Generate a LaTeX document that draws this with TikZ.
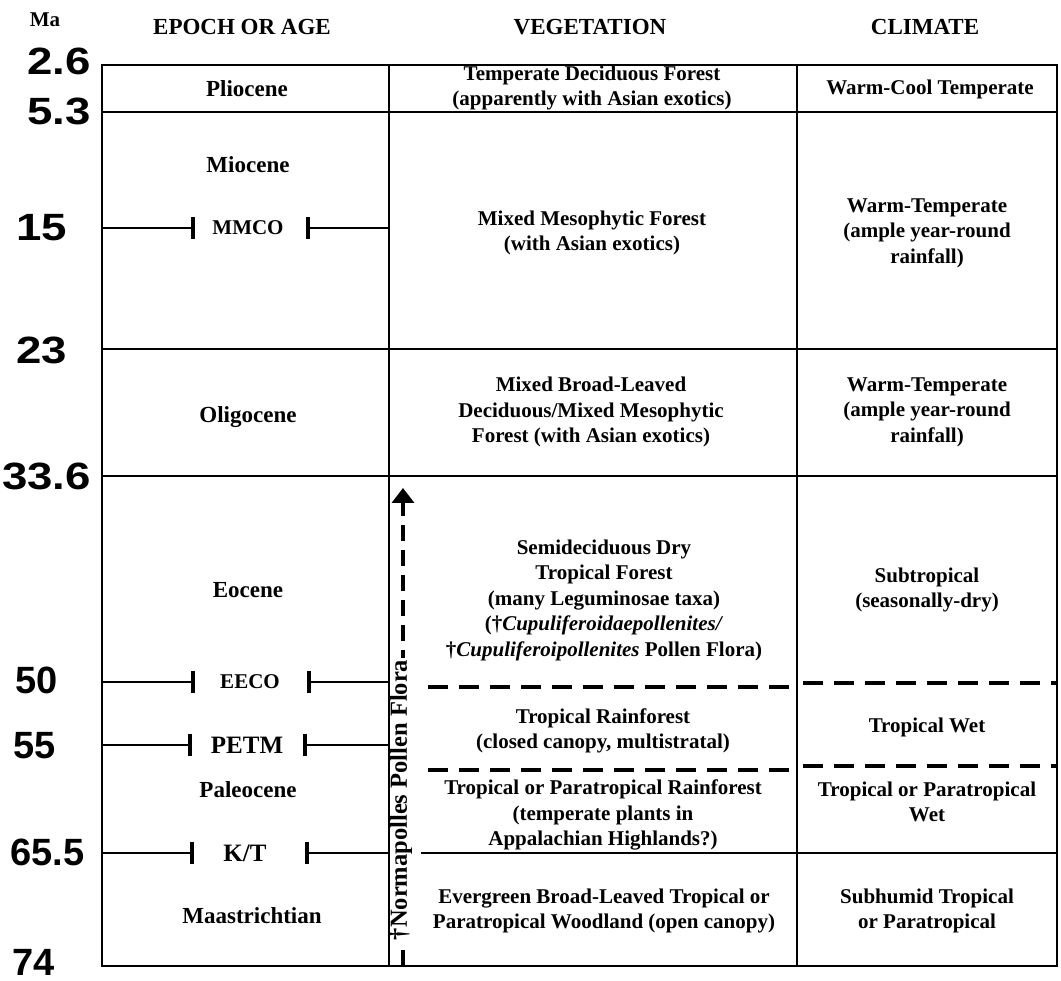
\documentclass[tikz,border=0pt]{standalone}
\usepackage{fontspec}
\setmainfont{Liberation Serif}
\newfontfamily\numfont{Liberation Sans}
\newfontfamily\numwide[FakeStretch=1.2]{Liberation Sans Bold}
\usetikzlibrary{arrows.meta}
\begin{document}
\begin{tikzpicture}[x=1pt,y=-1pt,
  every node/.style={font=\bfseries\fontsize{21}{25.5}\selectfont, align=center, inner sep=0pt},
  hdr/.style={font=\bfseries\fontsize{23}{27}\selectfont},
  ep/.style={font=\bfseries\fontsize{23}{27}\selectfont},
  evt/.style={font=\bfseries\fontsize{21}{24}\selectfont},
  bigevt/.style={font=\bfseries\fontsize{25}{28}\selectfont},
  num/.style={font=\numfont\bfseries\fontsize{38}{40}\selectfont, anchor=west},
  numw/.style={font=\numwide\fontsize{38}{40}\selectfont, anchor=west},
  rule/.style={line width=2.8pt},
  dashrule/.style={line width=3.5pt, dash pattern=on 20pt off 11pt},
  tickbar/.style={line width=4pt},
  flowarrow/.style={line width=3.5pt, dash pattern=on 16pt off 9pt, -{Triangle[width=22pt,length=15pt]}},
]
\useasboundingbox (0,0) rectangle (1061,981);
\fill[white] (0,0) rectangle (1061,981);

% ---- arrow for Normapolles flora
\coordinate (arrB) at (403,966);
\coordinate (arrT) at (403,488);
\draw[flowarrow] (arrB) -- (arrT);
\node[font=\bfseries\fontsize{24.5}{28}\selectfont, rotate=90, fill=white, inner sep=2pt] (norma) at (401,800) {†Normapolles Pollen Flora};

% ---- table grid
\coordinate (TL) at (102,65);
\coordinate (BR) at (1057,966);
\draw[rule] (TL) rectangle (BR);
\coordinate (c1t) at (389,65);  \coordinate (c1b) at (389,966);
\coordinate (c2t) at (797,65);  \coordinate (c2b) at (797,966);
\draw[rule] (c1t) -- (c1b);
\draw[rule] (c2t) -- (c2b);
\coordinate (h1l) at (102,112); \coordinate (h1r) at (1057,112);
\coordinate (h2l) at (102,349); \coordinate (h2r) at (1057,349);
\coordinate (h3l) at (102,476); \coordinate (h3r) at (1057,476);
\coordinate (h4l) at (421,853); \coordinate (h4r) at (1057,853);
\draw[rule] (h1l) -- (h1r);
\draw[rule] (h2l) -- (h2r);
\draw[rule] (h3l) -- (h3r);
\draw[rule] (h4l) -- (h4r);
% dashed boundaries
\coordinate (d1a) at (428,687); \coordinate (d1b) at (797,687);
\coordinate (d1c) at (803,683); \coordinate (d1d) at (1057,683);
\coordinate (d2a) at (428,770); \coordinate (d2b) at (797,770);
\coordinate (d2c) at (803,766); \coordinate (d2d) at (1057,766);
\draw[dashrule] (d1a) -- (d1b);
\draw[dashrule] (d1c) -- (d1d);
\draw[dashrule] (d2a) -- (d2b);
\draw[dashrule] (d2c) -- (d2d);

% ---- event markers in epoch column
% MMCO
\coordinate (m1a) at (102,228); \coordinate (m1b) at (193,228);
\coordinate (m1c) at (308,228); \coordinate (m1d) at (389,228);
\draw[rule] (m1a) -- (m1b); \draw[rule] (m1c) -- (m1d);
\draw[tickbar] ([yshift=-11pt]m1b) -- ([yshift=11pt]m1b);
\draw[tickbar] ([yshift=-11pt]m1c) -- ([yshift=11pt]m1c);
\node[evt] (mmco) at (248,228) {MMCO};
% EECO
\coordinate (m2a) at (102,682); \coordinate (m2b) at (193,682);
\coordinate (m2c) at (309,682); \coordinate (m2d) at (389,682);
\draw[rule] (m2a) -- (m2b); \draw[rule] (m2c) -- (m2d);
\draw[tickbar] ([yshift=-11pt]m2b) -- ([yshift=11pt]m2b);
\draw[tickbar] ([yshift=-11pt]m2c) -- ([yshift=11pt]m2c);
\node[evt] (eeco) at (250,682) {EECO};
% PETM
\coordinate (m3a) at (102,745); \coordinate (m3b) at (190,745);
\coordinate (m3c) at (305,745); \coordinate (m3d) at (389,745);
\draw[rule] (m3a) -- (m3b); \draw[rule] (m3c) -- (m3d);
\draw[tickbar] ([yshift=-11pt]m3b) -- ([yshift=11pt]m3b);
\draw[tickbar] ([yshift=-11pt]m3c) -- ([yshift=11pt]m3c);
\node[bigevt] (petm) at (247,745) {PETM};
% K/T
\coordinate (m4a) at (102,853); \coordinate (m4b) at (192,853);
\coordinate (m4c) at (307,853); \coordinate (m4d) at (389,853);
\draw[rule] (m4a) -- (m4b); \draw[rule] (m4c) -- (m4d);
\draw[tickbar] ([yshift=-11pt]m4b) -- ([yshift=11pt]m4b);
\draw[tickbar] ([yshift=-11pt]m4c) -- ([yshift=11pt]m4c);
\node[bigevt] (kt) at (245,853) {K/T};

% ---- headers
\node[font=\bfseries\fontsize{21}{25}\selectfont] (ma) at (45,20) {Ma};
\node[hdr] (hep) at (242,27) {EPOCH OR AGE};
\node[hdr] (hveg) at (590,27) {VEGETATION};
\node[hdr] (hcli) at (925,27) {CLIMATE};

% ---- ages
\node[numw] (a1) at (27,61) {2.6};
\node[numw] (a2) at (27,111) {5.3};
\node[numw] (a3) at (16,228) {15};
\node[numw] (a4) at (16,350) {23};
\node[numw] (a5) at (2,476) {33.6};
\node[num] (a6) at (15,680) {50};
\node[num] (a7) at (13,746) {55};
\node[num] (a8) at (10,852) {65.5};
\node[num] (a9) at (12,962) {74};

% ---- epochs
\node[ep] (e1) at (247,89) {Pliocene};
\node[ep] (e2) at (248,165) {Miocene};
\node[ep] (e3) at (248,417) {Oligocene};
\node[ep] (e4) at (248,590) {Eocene};
\node[ep] (e5) at (248,790) {Paleocene};
\node[ep] (e6) at (252,916) {Maastrichtian};

% ---- vegetation
\node (v1) at (592,88) {Temperate Deciduous Forest\\(apparently with Asian exotics)};
\node (v2) at (592,233) {Mixed Mesophytic Forest\\(with Asian exotics)};
\node (v3) at (591,412) {Mixed Broad-Leaved\\Deciduous/Mixed Mesophytic\\Forest (with Asian exotics)};
\node (v4) at (604,600) {Semideciduous Dry\\Tropical Forest\\(many Leguminosae taxa)\\(†\textit{Cupuliferoidaepollenites/}\\†\textit{Cupuliferoipollenites} Pollen Flora)};
\node (v5) at (603,731) {Tropical Rainforest\\(closed canopy, multistratal)};
\node (v6) at (603,815) {Tropical or Paratropical Rainforest\\(temperate plants in\\Appalachian Highlands?)};
\node (v7) at (604,911) {Evergreen Broad-Leaved Tropical or\\Paratropical Woodland (open canopy)};

% ---- climate
\node (k1) at (930,89) {Warm-Cool Temperate};
\node (k2) at (927,233) {Warm-Temperate\\(ample year-round\\rainfall)};
\node (k3) at (927,412) {Warm-Temperate\\(ample year-round\\rainfall)};
\node (k4) at (927,590) {Subtropical\\(seasonally-dry)};
\node (k5) at (927,727) {Tropical Wet};
\node (k6) at (927,802) {Tropical or Paratropical\\Wet};
\node (k7) at (927,911) {Subhumid Tropical\\or Paratropical};
\end{tikzpicture}
\end{document}
